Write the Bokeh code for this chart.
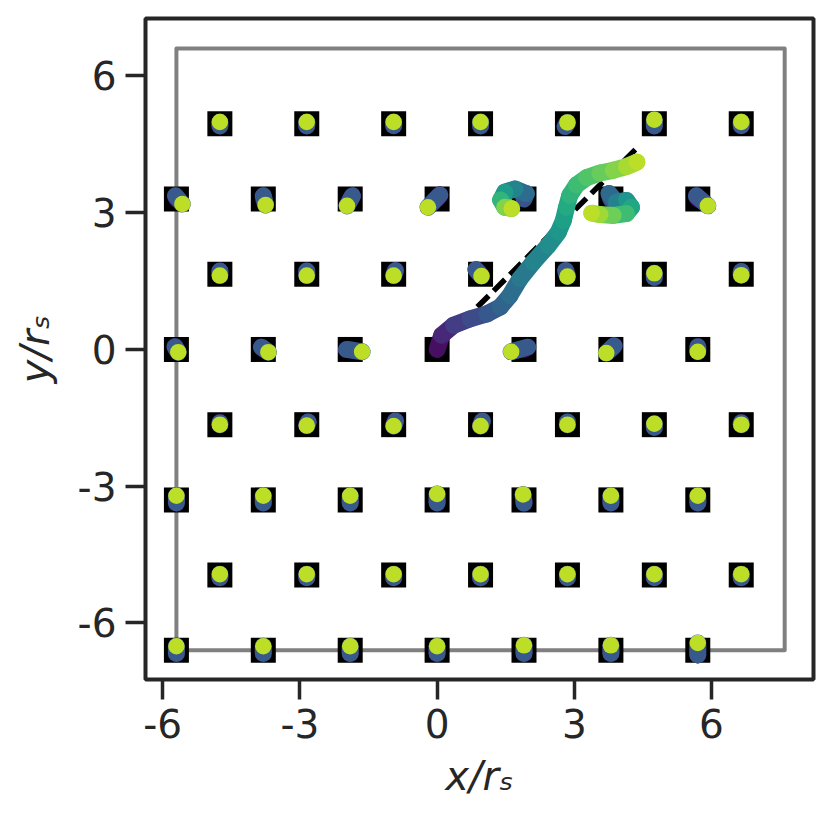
from bokeh.plotting import figure
from bokeh.models import Range1d, FixedTicker
from bokeh.palettes import Viridis256
from bokeh.embed import file_html
from bokeh.resources import INLINE

# ---------------- data ----------------
row_y = [4.95, 3.3, 1.65, 0.0, -1.65, -3.3, -4.95, -6.6]
row_x_even = [-5.7, -3.8, -1.9, 0.0, 1.9, 3.8, 5.7]      # rows 3.3, 0, -3.3, -6.6
row_x_odd = [-4.75, -2.85, -0.95, 0.95, 2.85, 4.75, 6.65]  # rows 4.95, 1.65, -1.65, -4.95

# simulation box
box_x = [-5.7, 7.6, 7.6, -5.7, -5.7]
box_y = [-6.6, -6.6, 6.6, 6.6, -6.6]

# guide line (dashed)
dash_x = [0.88, 4.42]
dash_y = [0.93, 4.47]

# per-particle displacement: (mid dx, mid dy, end dx, end dy), row by row
disp_row0 = [(0, -0.05, 0, 0.04), (0, -0.05, 0, 0.04), (0, -0.04, 0, 0.04), (0, -0.05, 0, 0.04),
             (-0.05, -0.06, 0, 0.03), (0, -0.05, 0, 0.09), (0, -0.04, 0, 0.04)]
disp_row1 = [(-0.02, 0.07, 0.13, -0.11), (0, 0.07, 0.05, -0.13), (0.05, 0.07, -0.07, -0.15),
             (0.06, 0.09, -0.20, -0.18), None, None, (-0.03, 0.07, 0.22, -0.15)]
disp_row2 = [(0, 0.07, 0, -0.03), (0, 0.07, 0, -0.03), (0.04, 0.08, 0, -0.03), (-0.10, 0.10, 0.02, -0.04),
             (-0.04, 0.08, 0, -0.05), (0, -0.07, 0, 0.02), (0, 0.06, 0, -0.02)]
disp_row3 = [(-0.03, 0.06, 0.04, -0.06), (-0.04, 0.05, 0.11, -0.06), (-0.08, 0.0, 0.26, -0.05), None,
             (0.08, 0.05, -0.28, -0.05), (0.07, 0.08, -0.10, -0.08), (0, 0.06, 0, -0.05)]
disp_row4 = [(0, 0.04, 0, 0), (0.03, 0.06, 0, -0.02), (0.04, 0.08, 0, -0.03), (0.04, 0.08, 0, -0.03),
             (0, 0.06, 0, 0), (0, -0.06, 0, 0.02), (0, 0.04, 0, 0)]
disp_row5 = [(0, -0.07, 0, 0.09), (0, -0.07, 0, 0.09), (0, -0.07, 0, 0.09), (0, -0.07, 0, 0.13),
             (0, -0.07, -0.02, 0.12), (0, -0.07, 0, 0.09), (0, -0.07, 0, 0.09)]
disp_row6 = [(0, -0.06, 0, 0.02)] * 7
disp_row7 = [(0, -0.07, 0, 0.09), (0, -0.07, 0, 0.09), (0, -0.07, 0, 0.09), (0, -0.07, 0, 0.09),
             (0, -0.07, 0, 0.11), (0, -0.07, 0, 0.11), (0, -0.10, 0, 0.16)]
disp_rows = [disp_row0, disp_row1, disp_row2, disp_row3, disp_row4, disp_row5, disp_row6, disp_row7]
t_default = [0.0, 0.28, 0.9]

# tracked particle starting at the origin
main_x = [0.0, 0.10, 0.36, 0.72, 1.09, 1.38, 1.59, 1.81, 2.10, 2.43, 2.65, 2.76, 2.83, 2.90, 3.05, 3.27, 3.56, 3.85, 4.14, 4.37]
main_y = [0.0, 0.31, 0.53, 0.67, 0.78, 0.93, 1.18, 1.55, 1.91, 2.28, 2.57, 2.83, 3.12, 3.38, 3.61, 3.77, 3.87, 3.93, 4.01, 4.11]
main_t = [0.0, 0.08, 0.15, 0.21, 0.25, 0.30, 0.34, 0.38, 0.43, 0.47, 0.51, 0.55, 0.59, 0.63, 0.67, 0.71, 0.75, 0.79, 0.84, 0.90]

# looping neighbours
loopA_x = [1.90, 1.95, 1.70, 1.48, 1.39, 1.48, 1.63]
loopA_y = [3.30, 3.42, 3.52, 3.45, 3.28, 3.12, 3.09]
loopA_t = [0.22, 0.30, 0.40, 0.50, 0.60, 0.72, 0.90]

loopB_x = [3.80, 3.76, 3.92, 4.14, 4.25, 4.14, 3.85, 3.56, 3.38]
loopB_y = [3.30, 3.42, 3.23, 3.27, 3.12, 2.98, 2.94, 2.96, 2.99]
loopB_t = [0.22, 0.28, 0.40, 0.48, 0.56, 0.64, 0.74, 0.82, 0.90]

# ---------------- build ----------------
def vcol(c):
    return Viridis256[int(round(c * 255))]

site_x, site_y = [], []
paths = []   # (xs, ys, ts, smooth colouring?)
for r, y in enumerate(row_y):
    xs = row_x_even if r % 2 == 1 else row_x_odd
    for j, x in enumerate(xs):
        site_x.append(x)
        site_y.append(y)
        d = disp_rows[r][j]
        if d is not None:
            paths.append(([x, x + d[0], x + d[2]], [y, y + d[1], y + d[3]], t_default, False))
paths.append((main_x, main_y, main_t, True))
paths.append((loopA_x, loopA_y, loopA_t, True))
paths.append((loopB_x, loopB_y, loopB_t, True))

segs = []
ends_x, ends_y, ends_c = [], [], []
for px, py, pt, smooth in paths:
    for k in range(len(px) - 1):
        c = 0.5 * (pt[k] + pt[k + 1]) if smooth else pt[k]
        segs.append((c, px[k], py[k], px[k + 1], py[k + 1]))
    ends_x.append(px[-1]); ends_y.append(py[-1]); ends_c.append(vcol(pt[-1]))
segs.sort(key=lambda s: s[0])

# ---------------- figure ----------------
INK = "#262626"
p = figure(width=822, height=808, output_backend="svg", toolbar_location=None,
           x_range=Range1d(-6.376, 8.23), y_range=Range1d(-7.24, 7.26),
           min_border_left=145, min_border_right=9, min_border_top=18, min_border_bottom=129)
p.background_fill_color = "white"
p.border_fill_color = "white"
p.outline_line_color = INK
p.outline_line_width = 4
p.xgrid.visible = False
p.ygrid.visible = False

ticks = [-6, -3, 0, 3, 6]
for ax in (p.xaxis[0], p.yaxis[0]):
    ax.ticker = FixedTicker(ticks=ticks)
    ax.major_label_overrides = {t: str(t) for t in ticks}
    ax.axis_line_color = None
    ax.major_tick_out = 20
    ax.major_tick_in = 0
    ax.major_tick_line_width = 3.5
    ax.major_tick_line_color = INK
    ax.minor_tick_line_color = None
    ax.major_label_text_font = "DejaVu Sans"
    ax.major_label_text_font_size = "39px"
    ax.major_label_text_color = INK
    ax.major_label_standoff = 9
    ax.axis_label_text_font = "DejaVu Sans"
    ax.axis_label_text_font_size = "40px"
    ax.axis_label_text_font_style = "italic"
    ax.axis_label_text_color = INK
    ax.axis_label_standoff = 12
p.yaxis.axis_label_standoff = 17
p.xaxis.axis_label = "x/rₛ"
p.yaxis.axis_label = "y/rₛ"
p.yaxis.major_label_orientation = "horizontal"

p.line(box_x, box_y, line_color="#808080", line_width=4, line_join="round")
p.scatter(site_x, site_y, marker="square", size=25, fill_color="black", line_color=None)
p.line(dash_x, dash_y, line_color="black", line_width=5.5, line_dash="16 7")
p.segment(x0=[s[1] for s in segs], y0=[s[2] for s in segs],
          x1=[s[3] for s in segs], y1=[s[4] for s in segs],
          line_color=[vcol(s[0]) for s in segs], line_width=17, line_cap="round")
p.scatter(ends_x, ends_y, size=16.5, fill_color=ends_c, line_color=None)

open("out.html", "w").write(file_html(p, INLINE))
